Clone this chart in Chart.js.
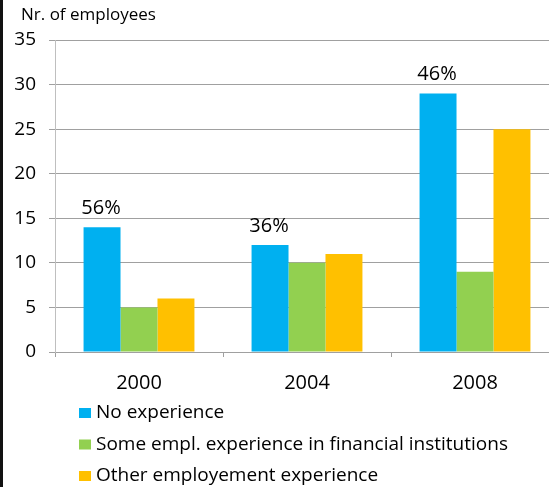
<!DOCTYPE html>
<html>
<head>
<meta charset="utf-8">
<script src="https://cdn.jsdelivr.net/npm/chart.js@4/dist/chart.umd.min.js"></script>
<style>
  html, body { margin: 0; padding: 0; background: #fff; overflow: hidden; width: 549px; height: 487px; }
  #wrap { position: absolute; left: 0; top: 0; width: 559px; height: 487px; }
  #border { position: absolute; left: 0; top: 0; width: 3px; height: 487px; background: #111; }
</style>
</head>
<body>
<div id="wrap"><canvas id="c" width="559" height="487"></canvas></div>
<div id="border"></div>
<script>
const categories = ['2000', '2004', '2008'];
const seriesNames = ['No experience', 'Some empl. experience in financial institutions', 'Other employement experience'];
const noExperience = [14, 12, 29];
const someFinancial = [5, 10, 9];
const otherExperience = [6, 11, 25];
const pctLabels = ['56%', '36%', '46%'];
const yTitle = 'Nr. of employees';
const colors = ['#00B0F0', '#92D050', '#FFC000'];

const FONT = "'Open Sans', 'DejaVu Sans', sans-serif";

const extras = {
  id: 'extras',
  afterDatasetsDraw(chart) {
    const ctx = chart.ctx;
    ctx.save();
    // percentage labels above first series
    const meta = chart.getDatasetMeta(0);
    ctx.fillStyle = '#000';
    ctx.font = '20px ' + FONT;
    ctx.textAlign = 'center';
    ctx.textBaseline = 'alphabetic';
    meta.data.forEach((bar, i) => {
      ctx.fillText(pctLabels[i], bar.x - 1, bar.y - 13);
    });
    // axis title
    ctx.font = '17px ' + FONT;
    ctx.textAlign = 'left';
    ctx.fillText(yTitle, 21, 20);
    // legend
    ctx.font = '19px ' + FONT;
    chart.data.datasets.forEach((ds, i) => {
      const base = 418 + i * 31.5;
      ctx.fillStyle = ds.backgroundColor;
      ctx.fillRect(79, base - 10, 12, 10);
      ctx.fillStyle = '#000';
      ctx.fillText(ds.label, 96, base);
    });
    ctx.restore();
  }
};

new Chart(document.getElementById('c'), {
  type: 'bar',
  data: {
    labels: categories,
    datasets: [
      { label: seriesNames[0], data: noExperience, backgroundColor: colors[0] },
      { label: seriesNames[1], data: someFinancial, backgroundColor: colors[1] },
      { label: seriesNames[2], data: otherExperience, backgroundColor: colors[2] }
    ]
  },
  options: {
    responsive: false,
    animation: false,
    categoryPercentage: 0.66,
    barPercentage: 1,
    layout: { padding: { top: 40, left: 0, right: 0, bottom: 0 } },
    plugins: { legend: { display: false }, tooltip: { enabled: false }, title: { display: false } },
    scales: {
      x: {
        afterFit: s => { s.height = 135; },
        grid: { offset: true, drawOnChartArea: false, drawTicks: true, tickLength: 5, color: '#a0a0a0' },
        border: { color: '#a0a0a0' },
        ticks: { color: '#000', font: { family: FONT, size: 20 }, padding: 14 }
      },
      y: {
        min: 0, max: 35,
        afterFit: s => { s.width = 55; },
        grid: { color: '#a0a0a0', tickLength: 6 },
        border: { color: '#bfbfbf' },
        ticks: { stepSize: 5, color: '#000', font: { family: FONT, size: 19 }, padding: 13 }
      }
    }
  },
  plugins: [extras]
});
</script>
</body>
</html>
